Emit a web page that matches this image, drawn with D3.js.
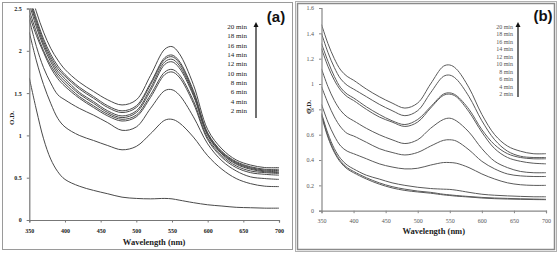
<!DOCTYPE html>
<html><head><meta charset="utf-8">
<script src="https://cdn.jsdelivr.net/npm/d3@7"></script>
<style>body{margin:0;background:#fff}svg{display:block}</style>
</head><body>
<svg id="c" width="559" height="254"></svg>
<script>
const wavelengths = [350,360,370,380,390,400,420,440,460,480,500,520,540,550,560,580,600,620,640,660,680,700];
const timeLabels = ["20 min","18 min","16 min","14 min","12 min","10 min","8 min","6 min","4 min","2 min"];
const xTicks = [350,400,450,500,550,600,650,700];
const yTicksA = [0,0.5,1,1.5,2,2.5];
const yTicksB = [0,0.2,0.4,0.6,0.8,1,1.2,1.4,1.6];

// Panel (a) series, ordered 2 min ... 20 min
const a2  = [1.68,1.30,0.96,0.72,0.57,0.48,0.40,0.35,0.31,0.27,0.255,0.25,0.255,0.25,0.235,0.205,0.18,0.165,0.15,0.145,0.14,0.14];
const a4  = [2.22,1.88,1.60,1.38,1.20,1.10,1.00,0.94,0.88,0.83,0.87,1.02,1.18,1.19,1.15,0.98,0.76,0.60,0.49,0.43,0.40,0.395];
const a6  = [2.37,2.05,1.80,1.62,1.48,1.42,1.32,1.24,1.15,1.06,1.10,1.32,1.53,1.54,1.48,1.22,0.90,0.70,0.58,0.51,0.49,0.48];
const a8  = [2.42,2.18,1.98,1.80,1.67,1.58,1.44,1.33,1.23,1.17,1.22,1.45,1.72,1.75,1.69,1.38,0.95,0.74,0.62,0.56,0.54,0.53];
const a10 = [2.48,2.22,2.00,1.83,1.70,1.61,1.46,1.35,1.25,1.19,1.24,1.48,1.75,1.78,1.72,1.41,0.97,0.76,0.64,0.58,0.56,0.55];
const a12 = [2.55,2.28,2.05,1.87,1.73,1.64,1.49,1.38,1.27,1.21,1.27,1.53,1.84,1.87,1.80,1.47,1.00,0.78,0.66,0.60,0.57,0.56];
const a14 = [2.60,2.32,2.08,1.90,1.76,1.67,1.51,1.40,1.29,1.23,1.29,1.56,1.87,1.90,1.83,1.49,1.01,0.79,0.67,0.61,0.58,0.57];
const a16 = [2.62,2.35,2.11,1.93,1.79,1.70,1.55,1.44,1.33,1.27,1.33,1.60,1.90,1.93,1.86,1.51,1.02,0.80,0.68,0.62,0.59,0.585];
const a18 = [2.65,2.38,2.14,1.96,1.82,1.72,1.57,1.46,1.35,1.29,1.35,1.62,1.92,1.95,1.88,1.53,1.03,0.81,0.69,0.63,0.60,0.60];
const a20 = [2.75,2.46,2.22,2.03,1.89,1.78,1.63,1.52,1.42,1.36,1.42,1.71,2.02,2.05,1.97,1.60,1.07,0.84,0.71,0.65,0.62,0.62];

// Panel (b) series
const b2  = [0.75,0.58,0.46,0.38,0.33,0.30,0.25,0.21,0.18,0.16,0.148,0.138,0.125,0.12,0.115,0.108,0.10,0.095,0.092,0.09,0.088,0.087];
const b4  = [0.76,0.59,0.47,0.39,0.34,0.31,0.26,0.22,0.19,0.17,0.155,0.145,0.13,0.125,0.12,0.112,0.105,0.10,0.097,0.094,0.092,0.09];
const b6  = [0.77,0.61,0.49,0.41,0.36,0.33,0.28,0.25,0.22,0.20,0.185,0.175,0.17,0.168,0.162,0.145,0.13,0.122,0.117,0.113,0.11,0.11];
const b8  = [0.84,0.70,0.59,0.51,0.47,0.45,0.41,0.37,0.345,0.33,0.335,0.36,0.38,0.38,0.375,0.34,0.29,0.25,0.22,0.205,0.20,0.20];
const b10 = [0.98,0.85,0.74,0.66,0.61,0.59,0.54,0.49,0.46,0.44,0.46,0.51,0.555,0.56,0.55,0.48,0.39,0.33,0.29,0.275,0.27,0.27];
const b12 = [1.12,0.98,0.87,0.79,0.74,0.71,0.65,0.60,0.56,0.53,0.56,0.65,0.72,0.73,0.71,0.62,0.49,0.39,0.34,0.31,0.30,0.30];
const b14 = [1.28,1.14,1.03,0.95,0.90,0.87,0.80,0.74,0.70,0.665,0.70,0.81,0.91,0.92,0.90,0.78,0.62,0.49,0.42,0.39,0.375,0.37];
const b16 = [1.32,1.18,1.06,0.97,0.92,0.89,0.82,0.76,0.71,0.68,0.72,0.82,0.92,0.93,0.91,0.80,0.64,0.52,0.45,0.42,0.41,0.41];
const b18 = [1.40,1.25,1.13,1.04,0.99,0.96,0.90,0.84,0.79,0.75,0.79,0.93,1.06,1.07,1.04,0.90,0.71,0.56,0.47,0.43,0.42,0.42];
const b20 = [1.47,1.32,1.20,1.11,1.06,1.03,0.96,0.90,0.85,0.81,0.85,1.00,1.14,1.15,1.12,0.97,0.76,0.60,0.51,0.47,0.45,0.45];

const seriesA = [a2,a4,a6,a8,a10,a12,a14,a16,a18,a20];
const seriesB = [b2,b4,b6,b8,b10,b12,b14,b16,b18,b20];

const svg = d3.select("#c");

// Panel frames
svg.append("rect").attr("x",2.5).attr("y",2.5).attr("width",290).attr("height",247)
  .attr("fill","none").attr("stroke","#9a9a9a").attr("stroke-width",1);
svg.append("rect").attr("x",295.5).attr("y",1.5).attr("width",261).attr("height",250)
  .attr("fill","none").attr("stroke","#b0b0b0").attr("stroke-width",1);
svg.append("rect").attr("x",297.5).attr("y",3.5).attr("width",257).attr("height",246)
  .attr("fill","none").attr("stroke","#8a8a8a").attr("stroke-width",1.5);

function panel(cfg){
  const x = d3.scaleLinear().domain([350,700]).range(cfg.xr);
  const y = d3.scaleLinear().domain([0,cfg.ymax]).range(cfg.yr);
  const g = svg.append("g");
  const clipId = "clip"+cfg.id;
  svg.append("clipPath").attr("id",clipId).append("rect")
    .attr("x",cfg.xr[0]).attr("y",cfg.yr[1]).attr("width",cfg.xr[1]-cfg.xr[0]+2).attr("height",cfg.yr[0]-cfg.yr[1]);
  const line = d3.line().x((d,i)=>x(wavelengths[i])).y(d=>y(d)).curve(d3.curveCatmullRom.alpha(0.5));
  g.append("g").attr("clip-path","url(#"+clipId+")").selectAll("path").data(cfg.series).join("path")
    .attr("d",line).attr("fill","none").attr("stroke",cfg.lineColor).attr("stroke-width",1);

  const xa = g.append("g").attr("transform",`translate(0,${cfg.yr[0]})`)
    .call(d3.axisBottom(x).tickValues(xTicks).tickSize(2.5).tickFormat(d3.format("d")));
  const ya = g.append("g").attr("transform",`translate(${cfg.xr[0]},0)`)
    .call(d3.axisLeft(y).tickValues(cfg.yTicks).tickSize(2.5).tickFormat(d=>String(d)));
  [xa,ya].forEach(a=>{
    a.select(".domain").attr("stroke",cfg.axisColor).attr("stroke-width",1.2);
    a.selectAll(".tick line").attr("stroke",cfg.axisColor);
    a.selectAll("text").attr("font-family","Liberation Serif").attr("font-size",6)
      .attr("font-weight",cfg.tickWeight).attr("fill",cfg.textColor);
  });
  xa.selectAll("text").attr("dy",cfg.xdy);
  ya.selectAll("text").attr("dx",-2);

  g.append("text").attr("x",(cfg.xr[0]+cfg.xr[1])/2).attr("y",cfg.xtitleY).attr("text-anchor","middle")
    .attr("font-family","Liberation Serif").attr("font-weight","bold").attr("font-size",8.5).attr("fill","#222")
    .text("Wavelength (nm)");
  g.append("text").attr("transform",`translate(${cfg.ytitleX},${cfg.ytitleY}) rotate(-90)`).attr("text-anchor","middle")
    .attr("font-family","Liberation Serif").attr("font-weight","bold").attr("font-size",7).attr("fill","#222")
    .text("O.D.");

  // legend
  g.selectAll("text.leg").data(timeLabels).join("text").attr("class","leg")
    .attr("x",cfg.legX).attr("y",(d,i)=>cfg.legY0+i*cfg.legStep).attr("dy","0.35em")
    .attr("text-anchor","end").attr("font-family","Liberation Serif").attr("font-size",cfg.legFont)
    .attr("fill",cfg.textColor).text(d=>d);
  g.append("line").attr("x1",cfg.arrowX).attr("x2",cfg.arrowX).attr("y1",cfg.arrowY[0]).attr("y2",cfg.arrowY[1]+4)
    .attr("stroke","#111").attr("stroke-width",1.2);
  g.append("path").attr("d",`M${cfg.arrowX-2.5},${cfg.arrowY[1]+5}L${cfg.arrowX},${cfg.arrowY[1]}L${cfg.arrowX+2.5},${cfg.arrowY[1]+5}Z`)
    .attr("fill","#111");
  g.append("text").attr("x",cfg.labX).attr("y",cfg.labY).attr("text-anchor","middle")
    .attr("font-family","Liberation Sans").attr("font-weight","bold").attr("font-size",15).attr("fill","#111")
    .text(cfg.label);
}

panel({id:"a", xr:[29.3,279], yr:[220,8.5], ymax:2.5, yTicks:yTicksA, series:seriesA,
  lineColor:"#4a4a4a", axisColor:"#777", textColor:"#222", tickWeight:"bold", xdy:"1.3em",
  xtitleY:245, ytitleX:14, ytitleY:118,
  legX:247, legY0:26.7, legStep:9.33, legFont:7, arrowX:256, arrowY:[118,22],
  labX:276, labY:22, label:"(a)"});

panel({id:"b", xr:[321.5,546], yr:[210.7,8], ymax:1.6, yTicks:yTicksB, series:seriesB,
  lineColor:"#5a5a5a", axisColor:"#888", textColor:"#555", tickWeight:"normal", xdy:"1.2em",
  xtitleY:234, ytitleX:311, ytitleY:107,
  legX:513, legY0:26.7, legStep:7.5, legFont:6, arrowX:518, arrowY:[97,22],
  labX:543, labY:21, label:"(b)"});
</script>
</body></html>
